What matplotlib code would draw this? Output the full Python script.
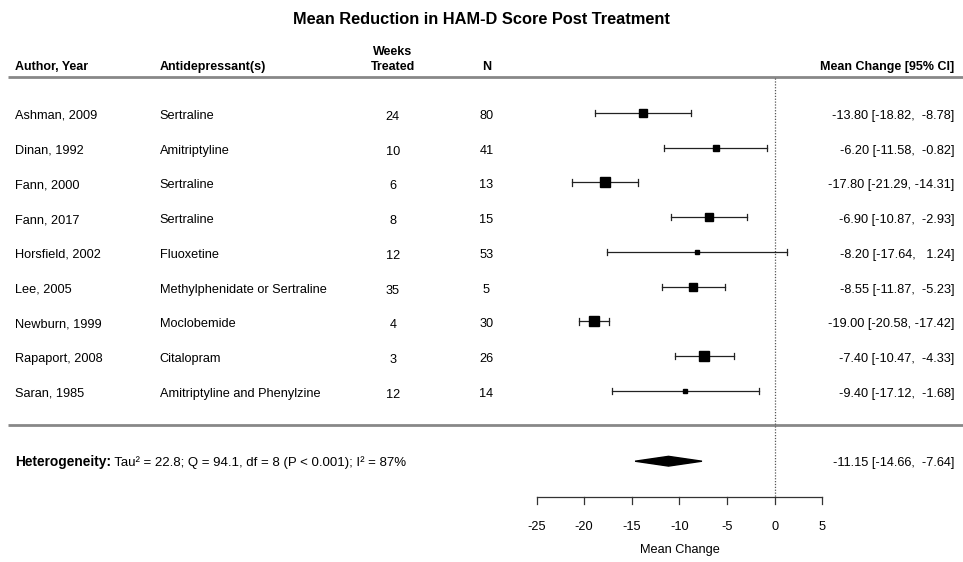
import matplotlib.pyplot as plt
from matplotlib.patches import Polygon
from matplotlib import transforms

plt.rcParams['font.family'] = ['Liberation Sans', 'DejaVu Sans']

# study data
authors = ["Ashman, 2009", "Dinan, 1992", "Fann, 2000", "Fann, 2017", "Horsfield, 2002",
           "Lee, 2005", "Newburn, 1999", "Rapaport, 2008", "Saran, 1985"]
drugs = ["Sertraline", "Amitriptyline", "Sertraline", "Sertraline", "Fluoxetine",
         "Methylphenidate or Sertraline", "Moclobemide", "Citalopram",
         "Amitriptyline and Phenylzine"]
weeks = [24, 10, 6, 8, 12, 35, 4, 3, 12]
n = [80, 41, 13, 15, 53, 5, 30, 26, 14]
mean = [-13.80, -6.20, -17.80, -6.90, -8.20, -8.55, -19.00, -7.40, -9.40]
lower = [-18.82, -11.58, -21.29, -10.87, -17.64, -11.87, -20.58, -10.47, -17.12]
upper = [-8.78, -0.82, -14.31, -2.93, 1.24, -5.23, -17.42, -4.33, -1.68]
weights = [11.0, 10.5, 12.5, 12.0, 7.5, 12.0, 13.5, 12.5, 8.5]  # approx. % weight

pooled = -11.15
pooled_ci = (-14.66, -7.64)
xticks = [-25, -20, -15, -10, -5, 0, 5]


def fmt(m, l, u):
    return f"{m:.2f} [{l:.2f}, {u:6.2f}]"


def main():
    fig = plt.figure(figsize=(9.63, 5.62), dpi=100)
    ax = fig.add_axes([0, 0, 1, 1])
    ax.set_xlim(-81.3, 19.75)
    ax.set_ylim(12.92, -3.25)
    ax.axis("off")
    tr = transforms.blended_transform_factory(ax.transAxes, ax.transData)

    fs = 9.2
    hfs = 9.0
    off = 0.14  # baseline offset below row centre

    # title and headers
    ax.text(0.5, -2.72 + 0.17, "Mean Reduction in HAM-D Score Post Treatment", transform=tr,
            ha="center", va="baseline", fontsize=11.8, fontweight="bold")
    hy = -1.38 + off
    ax.text(0.016, hy, "Author, Year", transform=tr, ha="left", va="baseline",
            fontsize=hfs, fontweight="bold")
    ax.text(0.166, hy, "Antidepressant(s)", transform=tr, ha="left", va="baseline",
            fontsize=hfs, fontweight="bold")
    ax.text(0.408, hy - 0.43, "Weeks", transform=tr, ha="center", va="baseline",
            fontsize=hfs, fontweight="bold")
    ax.text(0.408, hy, "Treated", transform=tr, ha="center", va="baseline",
            fontsize=hfs, fontweight="bold")
    ax.text(0.505, hy, "N", transform=tr, ha="center", va="baseline",
            fontsize=hfs, fontweight="bold")
    ax.text(0.991, hy, "Mean Change [95% CI]", transform=tr, ha="right", va="baseline",
            fontsize=hfs, fontweight="bold")

    # separator lines
    for yl in (-1.03, 8.98):
        ax.plot([0.008, 1.0], [yl, yl], transform=tr, color="#888888", lw=2.0,
                solid_capstyle="butt")

    # reference line at zero
    ax.plot([0, 0], [-1.0, 11.05], color="#555555", lw=0.9, ls=(0, (1, 1.3)))

    # study rows
    for i in range(len(authors)):
        y = i
        yt = y + off + 0.03
        ax.text(0.016, yt, authors[i], transform=tr, ha="left", va="baseline", fontsize=fs)
        ax.text(0.166, yt, drugs[i], transform=tr, ha="left", va="baseline", fontsize=fs)
        ax.text(0.408, yt + 0.03, str(weeks[i]), transform=tr, ha="center", va="baseline", fontsize=fs)
        ax.text(0.505, yt, str(n[i]), transform=tr, ha="center", va="baseline", fontsize=fs)
        ax.text(0.991, yt, fmt(mean[i], lower[i], upper[i]), transform=tr,
                ha="right", va="baseline", fontsize=fs)
        ax.plot([lower[i], upper[i]], [y, y], color="#222222", lw=0.9)
        for xe in (lower[i], upper[i]):
            ax.plot([xe, xe], [y - 0.09, y + 0.09], color="#222222", lw=0.9)
        ms = max(weights[i] - 6.5, 1.0) * 0.85 + 1.5
        ax.plot(mean[i], y, marker="s", color="black", ms=ms, mec="black")

    # pooled estimate
    ys = 10.02
    t1 = ax.text(0.016, ys + off, "Heterogeneity:", transform=tr, ha="left",
                 va="baseline", fontsize=9.9, fontweight="bold")
    ax.annotate(" Tau\u00b2 = 22.8; Q = 94.1, df = 8 (P < 0.001); I\u00b2 = 87%",
                xy=(1, 0), xycoords=t1, ha="left", va="bottom", fontsize=9.5)
    ax.add_patch(Polygon([[pooled_ci[0], ys], [pooled, ys - 0.14], [pooled_ci[1], ys],
                          [pooled, ys + 0.14]], closed=True, color="black"))
    ax.text(0.991, ys + off, fmt(pooled, *pooled_ci), transform=tr, ha="right",
            va="baseline", fontsize=fs)

    # x axis drawn by hand inside the full-figure axes
    ya = 11.05
    ax.plot([xticks[0], xticks[-1]], [ya, ya], color="#333333", lw=0.9)
    for t in xticks:
        ax.plot([t, t], [ya, ya + 0.2], color="#333333", lw=0.9)
        ax.text(t, ya + 0.8 + off, str(t), ha="center", va="baseline", fontsize=fs)
    ax.text((xticks[0] + xticks[-1]) / 2, ya + 1.48 + off, "Mean Change", ha="center",
            va="baseline", fontsize=fs)

    fig.savefig("out.png", dpi=100, facecolor="white")
    plt.close(fig)


if __name__ == "__main__":
    main()
